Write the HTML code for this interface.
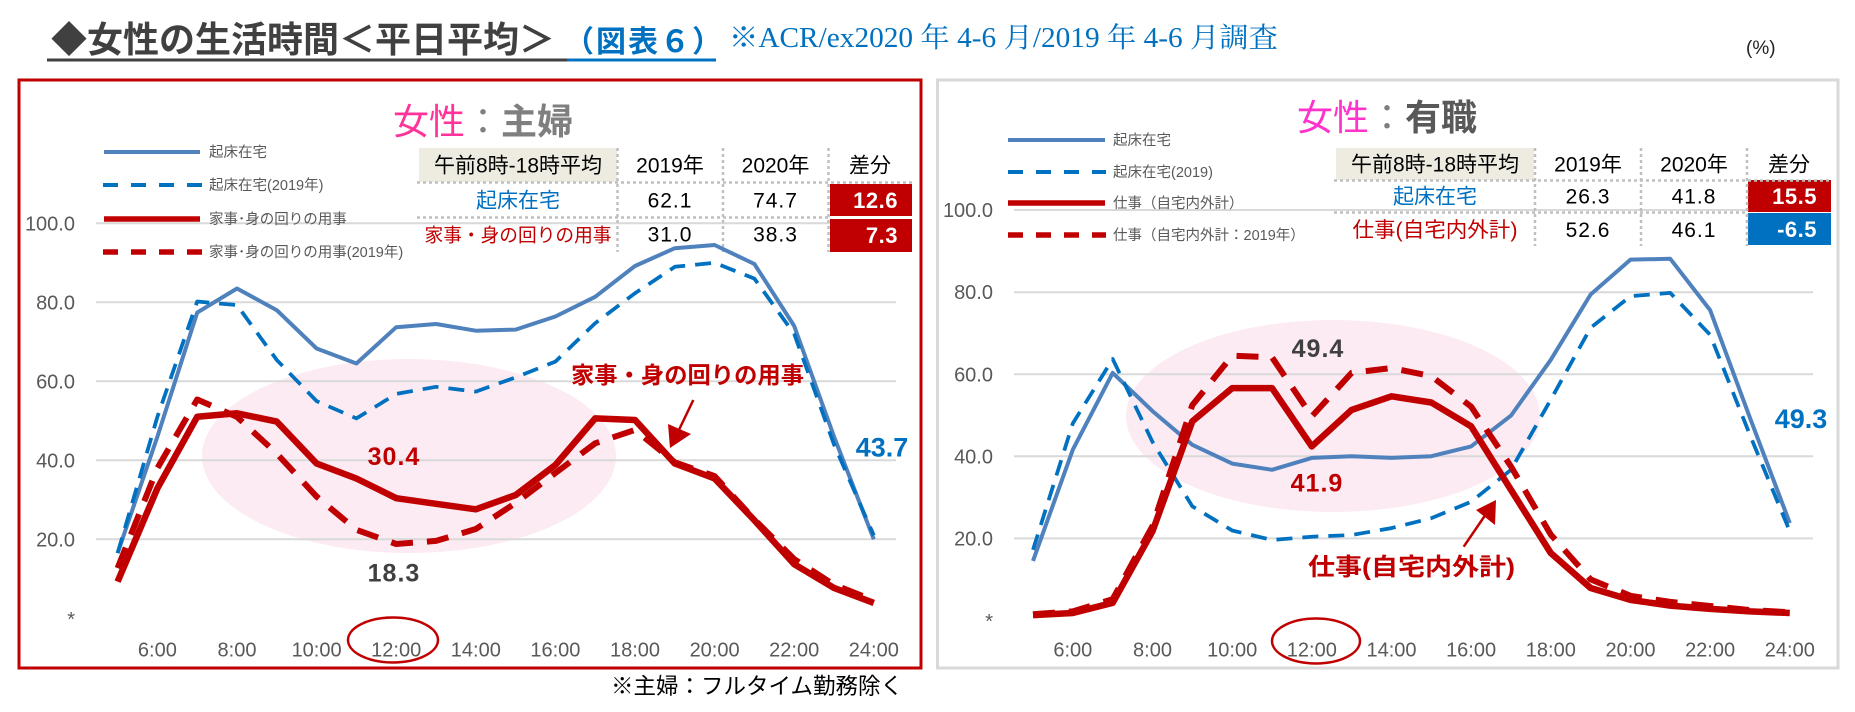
<!DOCTYPE html>
<html>
<head>
<meta charset="utf-8">
<style>
html,body{margin:0;padding:0;background:#fff;}
body{width:1855px;height:712px;overflow:hidden;}
svg{display:block;}
text{font-family:"Liberation Sans","Noto Sans CJK JP",sans-serif;}
.serif{font-family:"Liberation Serif","Noto Serif CJK SC",serif;}
.ax{font-size:20px;fill:#595959;}
.lg{font-size:14.5px;fill:#595959;}
.th{font-size:21px;fill:#000;}
.bx{font-size:22px;fill:#fff;font-weight:bold;}
</style>
</head>
<body>
<svg width="1855" height="712" viewBox="0 0 1855 712" xmlns="http://www.w3.org/2000/svg">
<!-- Title -->
<text x="51" y="52" font-size="36" font-weight="bold" fill="#404040">◆女性の生活時間＜平日平均＞</text>
<text x="564" y="52" font-size="30" font-weight="bold" fill="#0070C0" letter-spacing="2">（図表６）</text>
<line x1="47" y1="60" x2="567" y2="60" stroke="#404040" stroke-width="3"/>
<line x1="567" y1="60" x2="716" y2="60" stroke="#0070C0" stroke-width="3"/>
<text class="serif" x="729" y="47" font-size="28" fill="#0070C0" textLength="549" lengthAdjust="spacingAndGlyphs">※ACR/ex2020 年 4-6 月/2019 年 4-6 月調査</text>
<text x="1746" y="54" font-size="19" fill="#222">(%)</text>

<!-- Panels -->
<rect x="19" y="80" width="902" height="588" fill="#fff" stroke="#C00000" stroke-width="3"/>
<rect x="937.5" y="80" width="900.5" height="588" fill="#fff" stroke="#D9D9D9" stroke-width="3"/>

<!-- ================= LEFT CHART ================= -->
<ellipse cx="409" cy="456" rx="207" ry="97" fill="#FCEBF2"/>
<g stroke="#D9D9D9" stroke-width="2">
<line x1="96" y1="223.3" x2="896" y2="223.3"/>
<line x1="96" y1="302.3" x2="896" y2="302.3"/>
<line x1="96" y1="381.3" x2="896" y2="381.3"/>
<line x1="96" y1="460.3" x2="896" y2="460.3"/>
<line x1="96" y1="539.3" x2="896" y2="539.3"/>
</g>
<g class="ax" text-anchor="end">
<text x="75" y="230.3" class="ax">100.0</text>
<text x="75" y="309.3" class="ax">80.0</text>
<text x="75" y="388.3" class="ax">60.0</text>
<text x="75" y="467.3" class="ax">40.0</text>
<text x="75" y="546.3" class="ax">20.0</text>
<text x="75" y="626" class="ax">*</text>
</g>
<g text-anchor="middle">
<text x="157.4" y="656.5" class="ax">6:00</text>
<text x="237" y="656.5" class="ax">8:00</text>
<text x="316.6" y="656.5" class="ax">10:00</text>
<text x="396.2" y="656.5" class="ax">12:00</text>
<text x="475.8" y="656.5" class="ax">14:00</text>
<text x="555.4" y="656.5" class="ax">16:00</text>
<text x="635" y="656.5" class="ax">18:00</text>
<text x="714.6" y="656.5" class="ax">20:00</text>
<text x="794.2" y="656.5" class="ax">22:00</text>
<text x="873.8" y="656.5" class="ax">24:00</text>
</g>
<ellipse cx="393" cy="640" rx="45" ry="22.5" fill="none" stroke="#C00000" stroke-width="2.5"/>

<!-- left title -->
<text x="393" y="134" font-size="36"><tspan fill="#FF3399">女性</tspan><tspan fill="#7F7F7F">：</tspan><tspan fill="#7F7F7F" font-weight="bold">主婦</tspan></text>

<!-- left legend -->
<line x1="104" y1="152" x2="200" y2="152" stroke="#4F81BD" stroke-width="4"/>
<line x1="103" y1="185" x2="202" y2="185" stroke="#0070C0" stroke-width="4" stroke-dasharray="15 13"/>
<line x1="104" y1="219" x2="200" y2="219" stroke="#C00000" stroke-width="5.5"/>
<line x1="103" y1="252" x2="202" y2="252" stroke="#C00000" stroke-width="5.5" stroke-dasharray="15 13"/>
<text x="209" y="157" class="lg">起床在宅</text>
<text x="209" y="190" class="lg">起床在宅(2019年)</text>
<text x="209" y="224" class="lg">家事･身の回りの用事</text>
<text x="209" y="257" class="lg">家事･身の回りの用事(2019年)</text>

<!-- left table -->
<rect x="419" y="148" width="198" height="34" fill="#EEECE1"/>
<rect x="830" y="184" width="82" height="32" fill="#C00000"/>
<rect x="830" y="219" width="82" height="33" fill="#C00000"/>
<g stroke="#BFBFBF" stroke-width="2.5" stroke-dasharray="3 3">
<line x1="417" y1="182.5" x2="912" y2="182.5"/>
<line x1="417" y1="217.5" x2="829" y2="217.5"/>
<line x1="617.5" y1="148" x2="617.5" y2="252"/>
<line x1="723" y1="148" x2="723" y2="252"/>
<line x1="828.5" y1="148" x2="828.5" y2="252"/>
</g>
<g text-anchor="middle">
<text x="518" y="172.5" class="th">午前8時-18時平均</text>
<text x="670" y="172.5" class="th">2019年</text>
<text x="775.5" y="172.5" class="th">2020年</text>
<text x="870" y="172.5" class="th">差分</text>
<text x="518" y="207.5" class="th" style="fill:#0070C0">起床在宅</text>
<text x="670" y="207.5" class="th" letter-spacing="1">62.1</text>
<text x="775.5" y="207.5" class="th" letter-spacing="1">74.7</text>
<text x="518" y="241.5" class="th" style="fill:#C00000;font-size:19px" textLength="187" lengthAdjust="spacingAndGlyphs">家事・身の回りの用事</text>
<text x="670" y="241.5" class="th" letter-spacing="1">31.0</text>
<text x="775.5" y="241.5" class="th" letter-spacing="1">38.3</text>
</g>
<g text-anchor="end">
<text x="898" y="208" class="bx" letter-spacing="0.5">12.6</text>
<text x="898" y="243" class="bx" letter-spacing="0.5">7.3</text>
</g>

<!-- left series -->
<g fill="none" stroke-linejoin="round">
<polyline stroke="#4F81BD" stroke-width="4" points="117.6,553.1 157.4,436.6 197.2,312.6 237,288.5 276.8,310.2 316.6,348.5 356.4,363.5 396.2,327.2 436,324 475.8,330.7 515.6,329.6 555.4,316.5 595.2,296.8 635,266 674.8,248.2 714.6,245 754.4,264 794.2,326 834,436.6 873.8,539.3"/>
<polyline stroke="#0070C0" stroke-width="3.75" stroke-dasharray="16 10" points="117.6,553.1 157.4,416.8 197.2,301.5 237,305.1 276.8,360 316.6,401.1 356.4,418.4 396.2,393.9 436,386.8 475.8,391.6 515.6,377.4 555.4,361.6 595.2,323.2 635,293.2 674.8,266.8 714.6,262.8 754.4,278.6 794.2,333.9 834,444.5 873.8,535.4"/>
<polyline stroke="#C00000" stroke-width="6.5" points="117.6,581.6 157.4,488.3 197.2,416.8 237,413.3 276.8,421.6 316.6,463.5 356.4,478.5 396.2,498.2 436,503.8 475.8,509.3 515.6,495.1 555.4,465 595.2,418.4 635,420 674.8,463.5 714.6,478.5 754.4,520.3 794.2,564.2 834,587.9 873.8,602.9"/>
<polyline stroke="#C00000" stroke-width="6" stroke-dasharray="22 14" points="117.6,568.1 157.4,468.2 197.2,399.5 237,416.9 276.8,453.6 316.6,496.6 356.4,529.8 396.2,544 436,540.9 475.8,529 515.6,503 555.4,473 595.2,443.3 635,429.9 674.8,462.3 714.6,476.1 754.4,519.5 794.2,559.1 834,584.7 873.8,600.5"/>
</g>

<!-- left annotations -->
<text x="394" y="465" text-anchor="middle" font-size="25" font-weight="bold" fill="#C00000" letter-spacing="1">30.4</text>
<text x="394" y="581.7" text-anchor="middle" font-size="25" font-weight="bold" fill="#404040" letter-spacing="1">18.3</text>
<text x="882" y="456.7" text-anchor="middle" font-size="27" font-weight="bold" fill="#0070C0">43.7</text>
<text x="571" y="383" font-size="23" font-weight="bold" fill="#C00000" textLength="233" lengthAdjust="spacingAndGlyphs">家事・身の回りの用事</text>
<line x1="693.3" y1="400" x2="677" y2="434" stroke="#C00000" stroke-width="2.5"/>
<polygon points="670,448 668,424 691,434" fill="#C00000"/>

<!-- ================= RIGHT CHART ================= -->
<ellipse cx="1333" cy="416" rx="207" ry="96" fill="#FCEBF2"/>
<g stroke="#D9D9D9" stroke-width="2">
<line x1="1014" y1="210" x2="1813" y2="210"/>
<line x1="1014" y1="292.2" x2="1813" y2="292.2"/>
<line x1="1014" y1="374.3" x2="1813" y2="374.3"/>
<line x1="1014" y1="456.3" x2="1813" y2="456.3"/>
<line x1="1014" y1="538.4" x2="1813" y2="538.4"/>
</g>
<g text-anchor="end">
<text x="993" y="217" class="ax">100.0</text>
<text x="993" y="299.2" class="ax">80.0</text>
<text x="993" y="381.3" class="ax">60.0</text>
<text x="993" y="463.3" class="ax">40.0</text>
<text x="993" y="545.4" class="ax">20.0</text>
<text x="993" y="628" class="ax">*</text>
</g>
<g text-anchor="middle">
<text x="1072.8" y="656.5" class="ax">6:00</text>
<text x="1152.5" y="656.5" class="ax">8:00</text>
<text x="1232.2" y="656.5" class="ax">10:00</text>
<text x="1311.8" y="656.5" class="ax">12:00</text>
<text x="1391.5" y="656.5" class="ax">14:00</text>
<text x="1471.1" y="656.5" class="ax">16:00</text>
<text x="1550.8" y="656.5" class="ax">18:00</text>
<text x="1630.5" y="656.5" class="ax">20:00</text>
<text x="1710.1" y="656.5" class="ax">22:00</text>
<text x="1789.8" y="656.5" class="ax">24:00</text>
</g>
<ellipse cx="1316" cy="641" rx="44" ry="22.5" fill="none" stroke="#C00000" stroke-width="2.5"/>

<!-- right title -->
<text x="1297" y="130" font-size="36"><tspan fill="#FF33CC">女性</tspan><tspan fill="#7F7F7F">：</tspan><tspan fill="#595959" font-weight="bold">有職</tspan></text>

<!-- right legend -->
<line x1="1008" y1="140" x2="1105" y2="140" stroke="#4F81BD" stroke-width="4"/>
<line x1="1008" y1="172" x2="1106" y2="172" stroke="#0070C0" stroke-width="4" stroke-dasharray="15 13"/>
<line x1="1008" y1="203" x2="1105" y2="203" stroke="#C00000" stroke-width="5.5"/>
<line x1="1008" y1="235" x2="1106" y2="235" stroke="#C00000" stroke-width="5.5" stroke-dasharray="15 13"/>
<text x="1113" y="145" class="lg">起床在宅</text>
<text x="1113" y="177" class="lg">起床在宅(2019)</text>
<text x="1113" y="208" class="lg">仕事（自宅内外計）</text>
<text x="1113" y="240" class="lg">仕事（自宅内外計：2019年）</text>

<!-- right table -->
<rect x="1336" y="148" width="198" height="32" fill="#EEECE1"/>
<rect x="1748" y="180" width="83" height="32" fill="#C00000"/>
<rect x="1748" y="213" width="83" height="32" fill="#0070C0"/>
<g stroke="#BFBFBF" stroke-width="2.5" stroke-dasharray="3 3">
<line x1="1334" y1="180.5" x2="1831" y2="180.5"/>
<line x1="1334" y1="212.5" x2="1747" y2="212.5"/>
<line x1="1535" y1="148" x2="1535" y2="246"/>
<line x1="1641" y1="148" x2="1641" y2="246"/>
<line x1="1747" y1="148" x2="1747" y2="246"/>
</g>
<g text-anchor="middle">
<text x="1435" y="171.5" class="th">午前8時-18時平均</text>
<text x="1588" y="171.5" class="th">2019年</text>
<text x="1694" y="171.5" class="th">2020年</text>
<text x="1789" y="171.5" class="th">差分</text>
<text x="1435" y="203.5" class="th" style="fill:#0070C0">起床在宅</text>
<text x="1588" y="203.5" class="th" letter-spacing="1">26.3</text>
<text x="1694" y="203.5" class="th" letter-spacing="1">41.8</text>
<text x="1435" y="237" class="th" style="fill:#C00000" textLength="165" lengthAdjust="spacingAndGlyphs">仕事(自宅内外計)</text>
<text x="1588" y="237" class="th" letter-spacing="1">52.6</text>
<text x="1694" y="237" class="th" letter-spacing="1">46.1</text>
</g>
<g text-anchor="end">
<text x="1817" y="204" class="bx" letter-spacing="0.5">15.5</text>
<text x="1817" y="237" class="bx" letter-spacing="0.5">-6.5</text>
</g>

<!-- right series -->
<g fill="none" stroke-linejoin="round">
<polyline stroke="#4F81BD" stroke-width="4" points="1033,560.9 1072.8,449.7 1112.7,372.9 1152.5,411.1 1192.3,444.8 1232.2,463.6 1272,469.8 1311.8,457.9 1351.6,456.2 1391.5,457.9 1431.3,456.2 1471.1,446.4 1511,415.6 1550.8,359.8 1590.6,294.5 1630.5,259.6 1670.3,258.8 1710.1,310.1 1749.9,417.7 1789.8,523.1"/>
<polyline stroke="#0070C0" stroke-width="3.75" stroke-dasharray="16 10" points="1033,549.8 1072.8,423.4 1112.7,359 1152.5,441.9 1192.3,506.3 1232.2,530.5 1272,540 1311.8,536.7 1351.6,535 1391.5,528.1 1431.3,518.2 1471.1,501.8 1511,469.8 1550.8,399.6 1590.6,327.8 1630.5,296.2 1670.3,292.9 1710.1,334.8 1749.9,434.9 1789.8,531.3"/>
<polyline stroke="#C00000" stroke-width="6.5" points="1033,615.1 1072.8,613 1112.7,602.8 1152.5,531.3 1192.3,421.4 1232.2,388.1 1272,388.1 1311.8,446.4 1351.6,409.9 1391.5,396.3 1431.3,402.5 1471.1,426.3 1511,489.9 1550.8,553.1 1590.6,588 1630.5,599.9 1670.3,605.6 1710.1,608.9 1749.9,611.4 1789.8,613"/>
<polyline stroke="#C00000" stroke-width="6" stroke-dasharray="22 14" points="1033,614.2 1072.8,611.4 1112.7,599.1 1152.5,526 1192.3,405.1 1232.2,355.7 1272,357.3 1311.8,416.4 1351.6,372.9 1391.5,368 1431.3,376.2 1471.1,406.6 1511,466.5 1550.8,534.6 1590.6,579.4 1630.5,595.8 1670.3,601.9 1710.1,606 1749.9,610.1 1789.8,612.2"/>
</g>

<!-- right annotations -->
<text x="1318" y="357" text-anchor="middle" font-size="25" font-weight="bold" fill="#404040" letter-spacing="1">49.4</text>
<text x="1317" y="491.7" text-anchor="middle" font-size="25" font-weight="bold" fill="#C00000" letter-spacing="1">41.9</text>
<text x="1801" y="428" text-anchor="middle" font-size="27" font-weight="bold" fill="#0070C0">49.3</text>
<text x="1308" y="575" font-size="24" font-weight="bold" fill="#C00000" textLength="207" lengthAdjust="spacingAndGlyphs">仕事(自宅内外計)</text>
<line x1="1463.7" y1="546.7" x2="1486" y2="514" stroke="#C00000" stroke-width="2.5"/>
<polygon points="1496,500 1476,510 1495,525" fill="#C00000"/>

<!-- footnote -->
<text x="611" y="694" font-size="22.5" fill="#000">※主婦：フルタイム勤務除く</text>
</svg>
</body>
</html>
